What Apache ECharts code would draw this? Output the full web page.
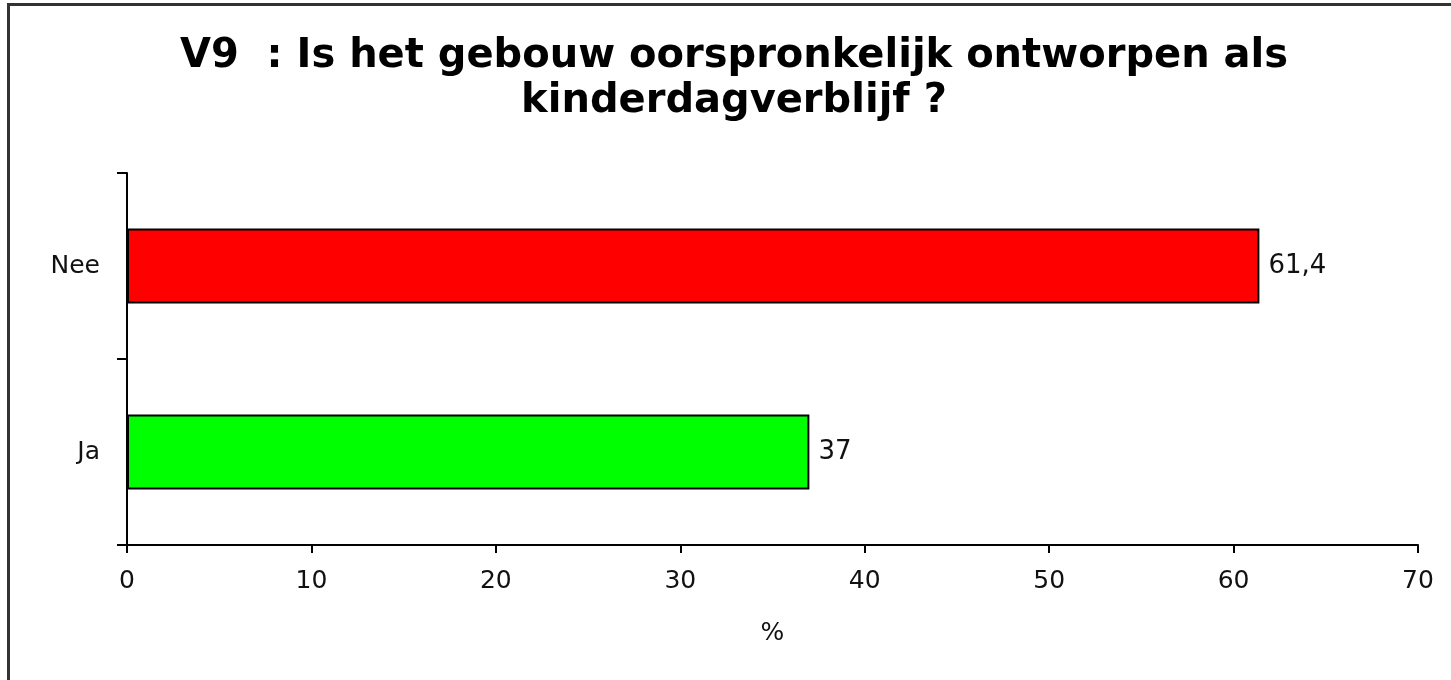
<!DOCTYPE html>
<html>
<head>
<meta charset="utf-8">
<title>V9</title>
<script src="https://cdn.jsdelivr.net/npm/echarts@6/dist/echarts.min.js"></script>
<style>
  html, body { margin: 0; padding: 0; background: #fff; }
  #wrap { position: relative; width: 1451px; height: 680px; overflow: hidden; }
  #chart { width: 1451px; height: 680px; }
  /* outer frame of the original picture, only top and left are visible */
  #frame {
    position: absolute; left: 7px; top: 3px; right: -10px; bottom: -10px;
    border-left: 3px solid #333; border-top: 3px solid #333;
    pointer-events: none;
  }
</style>
</head>
<body>
<div id="wrap">
  <div id="chart"></div>
  <div id="frame"></div>
</div>
<script>
  const titleText = "V9  : Is het gebouw oorspronkelijk ontworpen als\nkinderdagverblijf ?";
  const categories = ["Ja", "Nee"];
  const values = [37, 61.4];
  const barColors = ["#00ff00", "#ff0000"];
  const xTicks = [0, 10, 20, 30, 40, 50, 60, 70];

  const font = "DejaVu Sans";
  const myChart = echarts.init(document.getElementById("chart"));

  myChart.setOption({
    backgroundColor: "#fff",
    animation: false,
    // title drawn as a graphic so it can sit a little right of centre, like the original
    graphic: [
      {
        type: "text",
        x: 734,
        y: 34,
        style: {
          text: titleText,
          align: "center",
          verticalAlign: "top",
          fontFamily: font,
          fontWeight: "bold",
          fontSize: 40,
          lineHeight: 45,
          fill: "#000",
        },
      },
    ],
    grid: {
      left: 127,
      right: 33,
      top: 173,
      bottom: 135,
      containLabel: false,
    },
    xAxis: {
      type: "value",
      min: xTicks[0],
      max: xTicks[xTicks.length - 1],
      interval: 10,
      name: "%",
      nameLocation: "middle",
      nameGap: 76,
      nameTextStyle: { fontFamily: font, fontSize: 25, color: "#111" },
      axisLine: { show: true, lineStyle: { color: "#000", width: 2 } },
      axisTick: { show: true, length: 8, lineStyle: { color: "#000", width: 2 } },
      axisLabel: { fontFamily: font, fontSize: 25, color: "#111", margin: 24 },
      splitLine: { show: false },
    },
    yAxis: {
      type: "category",
      data: categories,
      axisLine: { show: true, lineStyle: { color: "#000", width: 2 } },
      axisTick: { show: true, length: 10, lineStyle: { color: "#000", width: 2 } },
      axisLabel: { fontFamily: font, fontSize: 25, color: "#111", margin: 27 },
    },
    series: [
      {
        type: "bar",
        barWidth: 75,
        data: values.map((v, i) => ({
          value: v,
          itemStyle: { color: barColors[i] },
        })),
        itemStyle: { borderColor: "#000", borderWidth: 2 },
        label: {
          show: true,
          position: "right",
          distance: 9,
          fontFamily: font,
          fontSize: 26,
          color: "#111",
          formatter: (p) => String(p.value).replace(".", ","),
        },
      },
    ],
  });
</script>
</body>
</html>
